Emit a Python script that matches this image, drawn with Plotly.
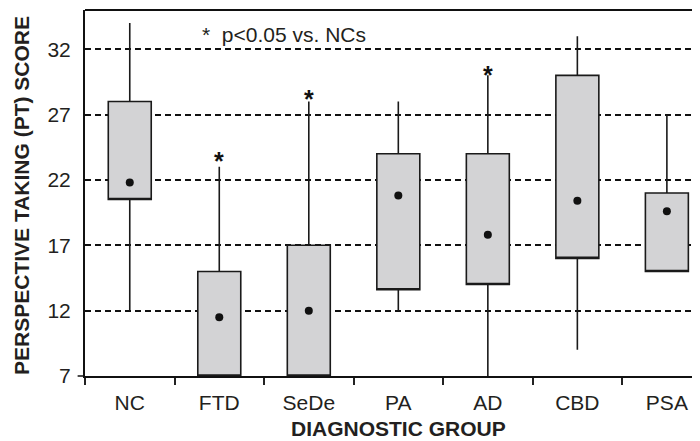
import plotly.graph_objects as go

groups = ["NC", "FTD", "SeDe", "PA", "AD", "CBD", "PSA"]
whisker_low = [12, 7, 7, 12, 7, 9, 15]
q1 = [20.5, 7, 7, 13.6, 14, 16, 15]
q3 = [28, 15, 17, 24, 24, 30, 21]
whisker_high = [34, 23, 28, 28, 30, 33, 27]
means = [21.8, 11.5, 12, 20.8, 17.8, 20.4, 19.6]
sig_groups = ["FTD", "SeDe", "AD"]
sig_star_y = [24.0, 28.7, 30.6]
y_ticks = [7, 12, 17, 22, 27, 32]

FONT = "Liberation Sans, Arial, sans-serif"
TXT = "#231f20"
FS = 21

fig = go.Figure()
fig.add_trace(go.Box(
    x=groups, q1=q1, median=q1, q3=q3,
    lowerfence=whisker_low, upperfence=whisker_high,
    fillcolor="#d3d3d5", line=dict(color="#1a1a1a", width=1.6),
    width=0.48, whiskerwidth=0, boxpoints=False, hoverinfo="skip",
    showlegend=False,
))
fig.add_trace(go.Scatter(
    x=groups, y=means, mode="markers",
    marker=dict(color="#111", size=8), showlegend=False, hoverinfo="skip",
))

star_annots = [
    dict(text="<b>*</b>", x=g, y=v, xref="x", yref="y", showarrow=False,
         xanchor="center", yanchor="middle", yshift=-7,
         font=dict(size=25, family=FONT, color="#111"))
    for g, v in zip(sig_groups, sig_star_y)
]

# the page body has an 8px margin, so the figure is 8px smaller and margins shifted
fig.update_layout(
    width=692, height=433,
    margin=dict(l=77, r=0, t=2, b=65, autoexpand=False),
    plot_bgcolor="white", paper_bgcolor="white",
    font=dict(family=FONT, color=TXT, size=FS),
    xaxis=dict(
        type="category", categoryorder="array", categoryarray=groups,
        range=[-0.5, 6.37], tickson="boundaries", ticks="outside",
        ticklen=7, tickwidth=1.5, tickcolor="#222",
        showgrid=False, showline=True, linecolor="#111", linewidth=2,
        tickfont=dict(size=FS, family=FONT, color=TXT),
        ticklabelstandoff=7,
        mirror=False, zeroline=False, automargin=False,
    ),
    yaxis=dict(
        range=[7, 35], tickvals=y_ticks, ticks="", showline=True,
        linecolor="#111", linewidth=2,
        showgrid=True, gridcolor="#111", gridwidth=1.6, griddash="6px,4px",
        tickfont=dict(size=FS, family=FONT, color=TXT),
        ticklabelstandoff=8, zeroline=False, automargin=False,
    ),
    shapes=[
        dict(type="line", xref="paper", yref="paper", x0=0, x1=1, y0=1, y1=1,
             line=dict(color="#111", width=2)),
        dict(type="line", xref="paper", yref="paper", x0=-0.012, x1=0, y0=0, y1=0,
             line=dict(color="#111", width=1.5)),
    ],
    annotations=[
        dict(text="<b>DIAGNOSTIC GROUP</b>", xref="paper", yref="paper",
             x=0.509, y=-0.143, xanchor="center", yanchor="middle",
             showarrow=False, font=dict(size=FS, family=FONT, color=TXT)),
        dict(text="<b>PERSPECTIVE TAKING (PT) SCORE</b>", xref="paper", yref="paper",
             x=-0.1024, y=0.492, xanchor="center", yanchor="middle", textangle=-90,
             showarrow=False, font=dict(size=FS, family=FONT, color=TXT)),
        dict(text="*  p<0.05 vs. NCs", xref="paper", yref="paper",
             x=0.187, y=0.934, xanchor="left", yanchor="middle",
             showarrow=False, font=dict(size=FS, family=FONT, color=TXT)),
    ] + star_annots,
)

fig.write_html("out.html")
